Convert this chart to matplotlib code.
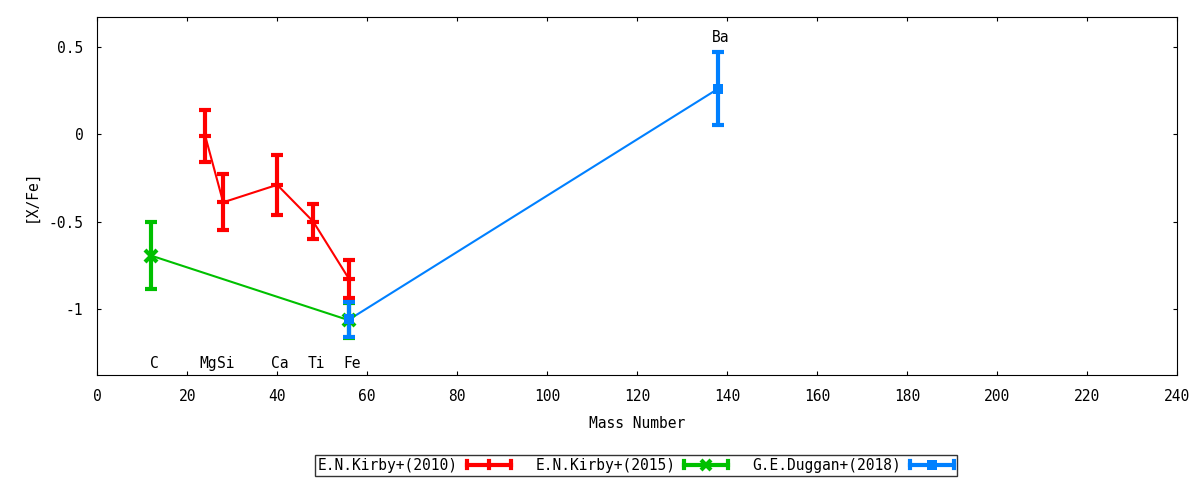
import matplotlib
matplotlib.use("Agg")
import matplotlib.pyplot as plt
from matplotlib.legend_handler import HandlerBase
from matplotlib.lines import Line2D

plt.rcParams['font.family'] = ['DejaVu Sans Mono']

# Data
kirby10_mass = [24, 28, 40, 48, 56]
kirby10_val = [-0.01, -0.39, -0.29, -0.50, -0.83]
kirby10_err = [0.15, 0.16, 0.17, 0.10, 0.11]

kirby15_mass = [12, 56]
kirby15_val = [-0.695, -1.065]
kirby15_err = [0.19, 0.10]

duggan18_mass = [56, 138]
duggan18_val = [-1.06, 0.26]
duggan18_err = [0.10, 0.21]

elem_names = ['C', 'Mg', 'Si', 'Ca', 'Ti', 'Fe', 'Ba']
elem_mass = [12, 24, 28, 40, 48, 56, 138]
elem_label_y = [-1.31, -1.31, -1.31, -1.31, -1.31, -1.31, 0.55]

series_labels = ['E.N.Kirby+(2010)', 'E.N.Kirby+(2015)', 'G.E.Duggan+(2018)']
colors = ['#ff0000', '#00c000', '#0080ff']
markers = ['_', 'x', 's']

FS = 10.5

fig = plt.figure(figsize=(12, 4.8), dpi=100)
ax = fig.add_axes([0.081, 0.219, 0.9, 0.746])

data = [(kirby10_mass, kirby10_val, kirby10_err),
        (kirby15_mass, kirby15_val, kirby15_err),
        (duggan18_mass, duggan18_val, duggan18_err)]

for (m, v, e), c, mk in zip(data, colors, markers):
    ax.plot(m, v, '-', color=c, lw=1.5, zorder=2)
    ax.errorbar(m, v, yerr=e, fmt='none', ecolor=c, elinewidth=3,
                capsize=4, capthick=3, zorder=3)
    ms = 8 if mk != 's' else 7
    ax.plot(m, v, linestyle='none', marker=mk, color=c, markersize=ms,
            markeredgewidth=3 if mk != 's' else 0, zorder=4)

for n, x, y in zip(elem_names, elem_mass, elem_label_y):
    ax.text(x + 0.6, y, n, ha='center', va='center', fontsize=FS)

ax.set_xlim(0, 240)
ax.set_ylim(-1.377, 0.671)
ax.set_xticks(range(0, 241, 20))
ax.set_yticks([-1, -0.5, 0, 0.5])
ax.set_yticklabels(['-1', '-0.5', '0', '0.5'])
ax.tick_params(direction='in', top=True, right=True, labelsize=FS, length=3, pad=10)
ax.set_xlabel('Mass Number', fontsize=FS, labelpad=9)
ax.set_ylabel('[X/Fe]', fontsize=FS, labelpad=7)


class ErrHandler(HandlerBase):
    def __init__(self, color, marker):
        super().__init__()
        self.color = color
        self.marker = marker

    def create_artists(self, legend, orig_handle, xdescent, ydescent,
                       width, height, fontsize, trans):
        y = height / 2 - ydescent
        x0, x1 = -xdescent, width - xdescent
        h = height * 0.32
        arts = [Line2D([x0, x1], [y, y], color=self.color, lw=3),
                Line2D([x0, x0], [y - h, y + h], color=self.color, lw=3),
                Line2D([x1, x1], [y - h, y + h], color=self.color, lw=3)]
        if self.marker == '_':
            arts.append(Line2D([(x0 + x1) / 2] * 2, [y - h, y + h], color=self.color, lw=3))
        else:
            arts.append(Line2D([(x0 + x1) / 2], [y], marker=self.marker, color=self.color,
                               markersize=7, markeredgewidth=3 if self.marker != 's' else 0,
                               linestyle='none'))
        for a in arts:
            a.set_transform(trans)
        return arts


handles = [Line2D([], [], color=c) for c in colors]
hmap = {h: ErrHandler(c, mk) for h, c, mk in zip(handles, colors, markers)}
leg = fig.legend(handles, series_labels, handler_map=hmap, loc='center',
                 bbox_to_anchor=(0.53, 0.031), ncol=3, markerfirst=False,
                 frameon=True, fancybox=False, edgecolor='black', fontsize=FS,
                 handlelength=3.0, columnspacing=1.7, borderpad=0.2,
                 handletextpad=0.6)
leg.get_frame().set_linewidth(1)

fig.savefig('out.png', dpi=100)
